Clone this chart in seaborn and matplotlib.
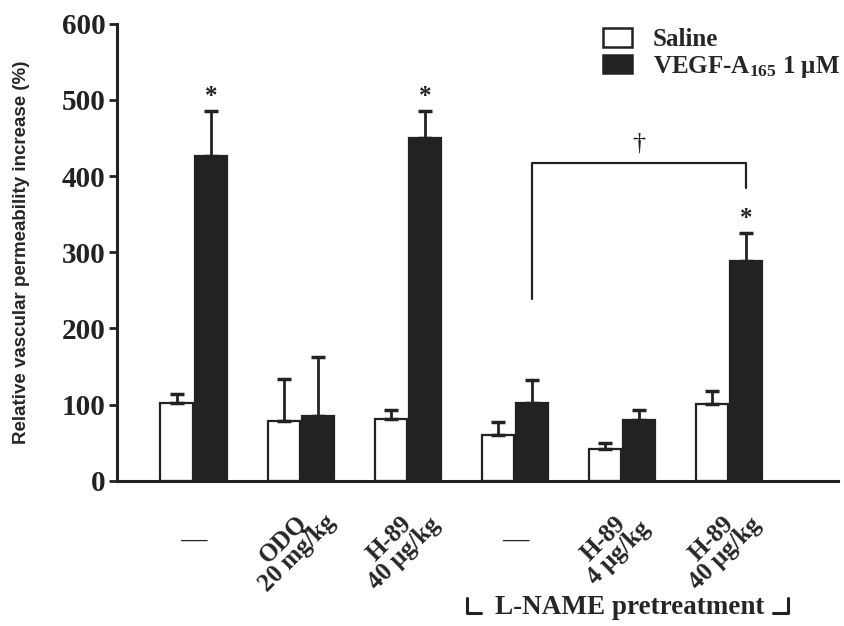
import numpy as np
import pandas as pd
import matplotlib
matplotlib.use("Agg")
import matplotlib.pyplot as plt
import matplotlib.transforms as mtransforms
import seaborn as sns

# values
groups = ["g1", "g2", "g3", "g4", "g5", "g6"]
group_labels = ["—", "ODQ\n20 mg/kg", "H-89\n40 μg/kg", "—", "H-89\n4 μg/kg", "H-89\n40 μg/kg"]
saline_mean = [102, 79, 81, 60, 42, 101]
saline_err = [12, 55, 12, 17, 7, 17]
vegf_mean = [427, 85, 450, 102, 80, 288]
vegf_err = [58, 78, 35, 30, 13, 37]
series_names = ["Saline", "VEGF-A$_{165}$ 1 μM"]
star_groups = ["g1", "g3", "g6"]

sns.set_style("ticks")
plt.rcParams["font.family"] = ["Liberation Serif", "DejaVu Serif"]
plt.rcParams["font.weight"] = "bold"
plt.rcParams["mathtext.fontset"] = "custom"
plt.rcParams["mathtext.rm"] = "Liberation Serif:bold"
plt.rcParams["mathtext.it"] = "Liberation Serif:bold"
plt.rcParams["mathtext.bf"] = "Liberation Serif:bold"

df = pd.DataFrame({
    "group": groups * 2,
    "treatment": [series_names[0]] * 6 + [series_names[1]] * 6,
    "value": saline_mean + vegf_mean,
    "err": saline_err + vegf_err,
})

fig = plt.figure(figsize=(8.45, 6.26), dpi=100)
ax = fig.add_axes([0.138, 0.232, 0.854, 0.730])

sns.barplot(data=df, x="group", y="value", hue="treatment", order=groups,
            hue_order=series_names, palette=["white", "#222222"],
            edgecolor="#222222", linewidth=1.6, width=0.64, gap=0.06,
            errorbar=None, ax=ax)

# upper-only error bars
centers = {}
for cont, name in zip(ax.containers, series_names):
    sub = df[df["treatment"] == name].set_index("group").loc[groups]
    xs = [b.get_x() + b.get_width() / 2 for b in cont]
    centers[name] = dict(zip(groups, xs))
    ax.errorbar(xs, sub["value"], yerr=[np.zeros(len(xs)), sub["err"]], fmt="none",
                ecolor="#222222", elinewidth=2, capsize=5, capthick=2.5, zorder=1)

# significance stars
vegf = df[df["treatment"] == series_names[1]].set_index("group")
for g in star_groups:
    top = vegf.loc[g, "value"] + vegf.loc[g, "err"]
    ax.text(centers[series_names[1]][g], top + 20, "*", ha="center", va="center",
            fontsize=18, color="#222222")

# dagger bracket
xl = centers[series_names[1]]["g4"]
xr = centers[series_names[1]]["g6"]
ax.plot([xl, xl, xr, xr], [238, 417, 417, 384], color="#222222", lw=1.6, clip_on=False)
ax.text((xl + xr) / 2, 443, "†", ha="center", va="center", fontsize=19, color="#222222",
        fontweight="normal")

ax.set_ylim(0, 600)
ax.set_xlim(-0.72, 6.02)
ax.set_yticks(range(0, 601, 100))
ax.set_yticklabels([str(v) for v in range(0, 601, 100)], fontsize=21, fontweight="bold")
ax.set_xticks([])
ax.set_xlabel("")
ax.set_ylabel("Relative vascular permeability increase (%)", fontsize=13.5,
              fontweight="bold", family=["Liberation Sans", "DejaVu Sans"])
ax.yaxis.set_label_coords(-0.12, 0.5)
ax.tick_params(axis="y", length=6, width=2, pad=2, colors="#222222")
sns.despine(ax=ax)
for s in ["left", "bottom"]:
    ax.spines[s].set_linewidth(2.2)
    ax.spines[s].set_color("#222222")

# x category labels
trans = mtransforms.blended_transform_factory(ax.transData, ax.transAxes)
for i, lab in enumerate(group_labels):
    if lab == "—":
        ax.text(i, -0.13, lab, transform=trans, ha="center", va="center",
                fontsize=19, fontweight="bold")
    else:
        ax.text(i - 0.1, -0.143, lab, transform=trans, ha="center", va="center",
                fontsize=18, fontweight="bold", rotation=45, multialignment="center",
                linespacing=0.85)

# L-NAME pretreatment bracket
ftrans = mtransforms.blended_transform_factory(ax.transData, fig.transFigure)
ax.text(4.07, 1 - 608 / 626, "L-NAME pretreatment", transform=ftrans, ha="center",
        va="center", fontsize=19.5, fontweight="bold")
ax.plot([2.55, 2.55, 2.68], [1 - 598 / 626, 1 - 613 / 626, 1 - 613 / 626],
        transform=ftrans, color="#222222", lw=2.2, clip_on=False)
ax.plot([5.41, 5.55, 5.55], [1 - 613 / 626, 1 - 613 / 626, 1 - 598 / 626],
        transform=ftrans, color="#222222", lw=2.2, clip_on=False)

leg = ax.legend(loc="upper left", bbox_to_anchor=(603 / 845, 1 - 28 / 626),
                bbox_transform=fig.transFigure, frameon=False,
                fontsize=18, handlelength=1.16, handleheight=0.76, handletextpad=0.84,
                labelspacing=0.1, borderaxespad=0, borderpad=0)
for h in leg.legend_handles:
    h.set_linewidth(1.8)

fig.savefig("out.png", dpi=100)
